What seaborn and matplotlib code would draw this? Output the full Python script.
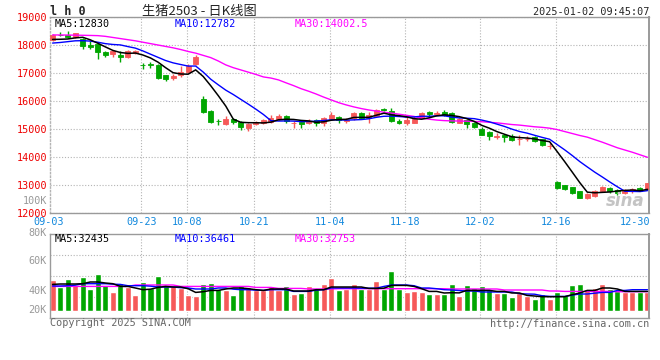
import numpy as np
import pandas as pd
import seaborn as sns
import matplotlib.pyplot as plt
from matplotlib.transforms import ScaledTranslation, blended_transform_factory

# daily K chart of live hog futures 2503, trading days 2024-09-03 .. 2025-01-02
date_labels = ['09-03', '09-23', '10-08', '10-21', '11-04', '11-18', '12-02', '12-16', '12-30']
date_label_days = [0, 12, 18, 27, 37, 47, 57, 67, 77]

opens = [18200, 18380, 18380, 18290, 18240, 18000, 18050, 17750, 17690, 17670,
         17580, 17730, 17300, 17320, 17310, 16930, 16830, 16930, 17050, 17350,
         16100, 15670, 15300, 15190, 15370, 15260, 15050, 15180, 15230, 15270,
         15370, 15490, 15210, 15250, 15230, 15350, 15230, 15360, 15440, 15310,
         15400, 15600, 15400, 15490, 15740, 15650, 15310, 15230, 15240, 15420,
         15610, 15560, 15630, 15570, 15230, 15330, 15210, 15010, 14890, 14740,
         14800, 14770, 14660, 14650, 14740, 14640, 14390, 13120, 13000, 12930,
         12790, 12560, 12610, 12800, 12910, 12850, 12730, 12780, 12890, 12860]
highs = [18420, 18470, 18520, 18450, 18260, 18140, 18080, 17810, 17830, 17790,
         17840, 17840, 17370, 17400, 17330, 16950, 16970, 17250, 17330, 17640,
         16190, 15700, 15370, 15460, 15400, 15300, 15220, 15310, 15370, 15510,
         15560, 15510, 15310, 15270, 15350, 15370, 15430, 15630, 15480, 15420,
         15610, 15630, 15630, 15730, 15770, 15750, 15370, 15430, 15490, 15610,
         15640, 15640, 15690, 15600, 15400, 15370, 15250, 15070, 14930, 14870,
         14830, 14830, 14780, 14760, 14770, 14670, 14500, 13140, 13020, 12950,
         12810, 12740, 12830, 12990, 12950, 12870, 12850, 12900, 12930, 13090]
lows = [18170, 18320, 18260, 18260, 17880, 17850, 17520, 17580, 17570, 17400,
        17550, 17690, 17150, 17180, 16800, 16710, 16760, 16870, 17010, 17310,
        15590, 15210, 15150, 15160, 15200, 14980, 14930, 15150, 15190, 15230,
        15330, 15230, 15060, 15060, 15190, 15100, 15110, 15320, 15230, 15240,
        15330, 15370, 15230, 15460, 15640, 15250, 15180, 15140, 15210, 15390,
        15490, 15510, 15480, 15230, 15220, 15040, 15050, 14800, 14630, 14650,
        14560, 14580, 14430, 14570, 14560, 14400, 14290, 12880, 12830, 12690,
        12540, 12520, 12580, 12770, 12720, 12670, 12690, 12740, 12780, 12840]
closes = [18380, 18360, 18290, 18440, 17960, 17930, 17750, 17640, 17810, 17580,
          17780, 17810, 17280, 17290, 16830, 16800, 16910, 17050, 17250, 17600,
          15620, 15260, 15280, 15380, 15260, 15070, 15190, 15270, 15350, 15400,
          15490, 15290, 15230, 15180, 15310, 15230, 15390, 15510, 15320, 15330,
          15570, 15400, 15520, 15700, 15680, 15290, 15240, 15320, 15370, 15580,
          15540, 15590, 15510, 15250, 15370, 15190, 15080, 14810, 14750, 14760,
          14720, 14620, 14670, 14670, 14600, 14440, 14410, 12910, 12870, 12740,
          12560, 12700, 12790, 12950, 12810, 12730, 12810, 12860, 12810, 13070]

ma5 = [18210, 18215, 18225, 18265, 18286, 18196, 18074, 17944, 17818, 17742,
       17712, 17724, 17652, 17548, 17398, 17202, 17022, 16976, 16968, 17122,
       16886, 16556, 16202, 15828, 15360, 15250, 15236, 15234, 15228, 15256,
       15340, 15360, 15352, 15318, 15300, 15248, 15268, 15324, 15352, 15356,
       15424, 15426, 15428, 15504, 15574, 15518, 15486, 15446, 15380, 15360,
       15410, 15480, 15518, 15494, 15452, 15382, 15280, 15140, 15040, 14918,
       14824, 14732, 14704, 14688, 14656, 14600, 14558, 14206, 13846, 13474,
       13098, 12756, 12732, 12748, 12762, 12796, 12818, 12832, 12804, 12856]
ma10 = [18080, 18100, 18130, 18160, 18165, 18150, 18110, 18060, 18030, 18014,
        17954, 17899, 17798, 17683, 17570, 17457, 17373, 17314, 17258, 17260,
        17044, 16789, 16589, 16398, 16241, 16068, 15896, 15718, 15528, 15308,
        15295, 15298, 15293, 15273, 15278, 15294, 15314, 15338, 15335, 15328,
        15336, 15347, 15376, 15428, 15465, 15471, 15456, 15437, 15442, 15467,
        15464, 15483, 15482, 15437, 15406, 15396, 15380, 15329, 15267, 15185,
        15103, 15006, 14922, 14864, 14787, 14712, 14645, 14455, 14267, 14065,
        13849, 13657, 13469, 13297, 13118, 12947, 12787, 12782, 12776, 12809]
ma30 = [18370, 18368, 18366, 18362, 18358, 18352, 18345, 18320, 18280, 18240,
        18200, 18160, 18110, 18060, 18010, 17960, 17910, 17850, 17780, 17720,
        17640, 17560, 17440, 17300, 17200, 17120, 17040, 16960, 16870, 16830,
        16764, 16660, 16560, 16450, 16360, 16260, 16150, 16050, 15950, 15870,
        15800, 15740, 15690, 15650, 15610, 15580, 15540, 15500, 15460, 15400,
        15360, 15330, 15310, 15300, 15295, 15290, 15280, 15270, 15250, 15230,
        15200, 15170, 15150, 15120, 15090, 15070, 15040, 14990, 14920, 14850,
        14780, 14720, 14630, 14540, 14440, 14340, 14260, 14180, 14090, 14000]

# volume in thousands of lots
volume = [52.7, 39.6, 54.4, 44.2, 57.8, 37.4, 62.9, 44.2, 32.3, 47.6,
          39.6, 27.2, 49.3, 38.6, 59.5, 43.0, 41.3, 38.6, 27.2, 25.5,
          45.9, 47.6, 37.4, 35.7, 27.2, 42.5, 40.3, 34.5, 34.5, 42.5,
          34.5, 42.5, 28.9, 30.6, 42.5, 36.9, 45.9, 56.1, 35.7, 36.9,
          45.9, 36.9, 36.9, 51.0, 36.9, 68.0, 36.9, 32.3, 34.0, 32.3,
          28.9, 28.9, 28.9, 45.9, 25.5, 44.2, 39.1, 42.5, 35.7, 30.6,
          30.6, 23.8, 30.6, 25.5, 20.4, 28.9, 20.4, 32.3, 27.2, 44.2,
          45.9, 37.4, 39.1, 45.9, 37.4, 34.0, 32.3, 32.3, 32.3, 32.3]
vol_ma5 = [44.7, 45.4, 45.4, 45.4, 45.9, 48.8, 48.8, 47.1, 45.9, 41.3,
           41.3, 38.6, 35.7, 36.6, 39.6, 41.3, 40.3, 40.3, 37.4, 31.1,
           32.3, 34.5, 34.5, 36.9, 38.6, 38.6, 37.4, 35.7, 34.5, 36.9,
           36.9, 36.9, 33.5, 33.5, 33.5, 35.7, 35.7, 40.3, 40.3, 40.3,
           40.3, 40.3, 37.9, 37.9, 38.3, 43.0, 43.0, 43.0, 41.3, 37.4,
           32.8, 32.8, 30.1, 30.6, 30.3, 34.5, 34.5, 34.5, 34.5, 32.8,
           32.8, 30.1, 30.1, 26.0, 25.0, 23.8, 23.8, 23.8, 23.8, 27.2,
           30.1, 34.5, 34.5, 38.6, 38.6, 36.9, 32.8, 32.8, 32.8, 32.8]
vol_ma10 = [42.0, 42.0, 42.5, 43.4, 45.9, 45.9, 45.9, 45.9, 45.1, 44.7,
            42.5, 42.5, 42.5, 41.7, 40.3, 40.3, 40.3, 39.1, 38.6, 36.9,
            36.9, 36.9, 38.6, 38.6, 36.6, 35.7, 35.7, 34.9, 34.5, 35.7,
            35.7, 35.7, 32.8, 32.8, 32.8, 34.9, 35.7, 38.6, 38.6, 38.6,
            38.6, 38.3, 38.3, 38.3, 41.3, 43.7, 43.7, 43.7, 42.5, 38.6,
            38.6, 37.4, 35.7, 35.2, 34.3, 33.5, 33.5, 31.8, 31.8, 31.8,
            31.8, 31.8, 28.9, 28.4, 28.1, 25.5, 24.3, 24.3, 24.3, 26.4,
            28.4, 28.4, 29.8, 31.1, 31.1, 34.5, 34.5, 35.7, 35.7, 35.7]
vol_ma30 = [41.3, 41.3, 41.3, 41.3, 41.3, 41.3, 41.3, 41.3, 41.3, 41.3,
            41.3, 43.7, 43.7, 43.7, 43.7, 43.7, 43.7, 41.3, 41.3, 41.3,
            41.3, 41.3, 41.3, 41.3, 41.3, 41.3, 41.3, 39.6, 39.6, 39.6,
            37.9, 37.9, 37.9, 37.9, 36.9, 36.9, 36.9, 36.9, 37.4, 37.4,
            37.4, 37.4, 37.4, 37.4, 37.4, 37.4, 37.4, 37.4, 37.4, 37.4,
            37.4, 37.4, 37.4, 36.9, 36.9, 36.9, 36.9, 36.9, 36.9, 36.9,
            35.2, 35.2, 35.2, 35.2, 35.2, 35.2, 33.5, 33.5, 32.8, 32.8,
            32.8, 32.8, 32.8, 32.8, 32.8, 32.3, 32.3, 32.3, 32.3, 32.3]

price_ticks = [12000, 13000, 14000, 15000, 16000, 17000, 18000, 19000]
vol_tick_labels = ['100K', '80K', '60K', '40K', '20K']
vol_tick_values = [187, 132, 85, 34, 1.2]

RED = '#f65959'
GREEN = '#00a600'
GRID = '#b4b4b4'
BORDER = '#9a9a9a'
W, H = 660, 360

df = pd.DataFrame({'day': np.arange(len(closes)), 'open': opens, 'high': highs,
                   'low': lows, 'close': closes, 'ma5': ma5, 'ma10': ma10, 'ma30': ma30,
                   'volume': volume, 'vma5': vol_ma5, 'vma10': vol_ma10, 'vma30': vol_ma30})
df['dir'] = np.where(df['close'] >= df['open'], 'up', 'down')
colors = np.where(df['dir'] == 'up', RED, GREEN)

sns.set_theme(style='white')
plt.rcParams['font.family'] = ['DejaVu Sans Mono', 'Noto Sans CJK SC']

fig = plt.figure(figsize=(W / 100, H / 100), dpi=100)
ax_k = fig.add_axes([50 / W, 1 - 213.3 / H, 599 / W, 196 / H])
ax_v = fig.add_axes([50 / W, 1 - 318 / H, 599 / W, 84 / H])


def px(x, y):
    return x / W, 1 - y / H


# ---- candles ----
ax_k.vlines(df['day'], df['low'], df['high'], colors=colors, lw=1, zorder=2)
ax_k.bar(df['day'], (df['close'] - df['open']).abs(), bottom=df[['open', 'close']].min(axis=1),
         width=0.66, color=colors, edgecolor=colors, lw=0.6, zorder=3)
sns.lineplot(data=df, x='day', y='ma30', color='#ff00ff', lw=1, ax=ax_k, zorder=4)
sns.lineplot(data=df, x='day', y='ma10', color='#0000ff', lw=1, ax=ax_k, zorder=5)
sns.lineplot(data=df, x='day', y='ma5', color='black', lw=1.1, ax=ax_k, zorder=6)

# ---- volume ----
sns.barplot(data=df, x='day', y='volume', hue='dir', palette={'up': RED, 'down': GREEN},
            dodge=False, width=0.8, native_scale=True, saturation=1, errorbar=None,
            legend=False, ax=ax_v, zorder=2)
sns.lineplot(data=df, x='day', y='vma30', color='#ff00ff', lw=1, ax=ax_v, zorder=4)
sns.lineplot(data=df, x='day', y='vma10', color='#0000ff', lw=1, ax=ax_v, zorder=5)
sns.lineplot(data=df, x='day', y='vma5', color='black', lw=1.1, ax=ax_v, zorder=6)

dots = (0, (1.0, 1.6))
for ax in (ax_k, ax_v):
    ax.set_xlim(-0.345, 79.2)
    ax.set_xlabel('')
    ax.set_ylabel('')
    ax.set_facecolor('white')
    for d in date_label_days[1:-1]:
        ax.axvline(d - 0.2, color=GRID, lw=0.8, ls=dots, zorder=1)
    for s in ax.spines.values():
        s.set_color(BORDER)
        s.set_linewidth(1)
    ax.spines['right'].set_linewidth(1.4)

ax_k.spines['left'].set_linestyle(dots)
ax_k.spines['left'].set_color(GRID)

# price axis
ax_k.set_ylim(12000, 19000)
ax_k.set_yticks(price_ticks, [str(p) for p in price_ticks])
ax_k.yaxis.grid(True, color=GRID, lw=0.8, ls=dots)
ax_k.tick_params(axis='y', length=0, pad=2.2, labelcolor='#ee0000', labelsize=7.3)
ax_k.set_xticks([d - 0.2 for d in date_label_days], date_labels)
ax_k.tick_params(axis='x', length=0, pad=3.0, labelcolor='#1188dd', labelsize=7.3)
xl = ax_k.get_xticklabels()
xl[0].set_transform(xl[0].get_transform() + ScaledTranslation(-0.02, 0, fig.dpi_scale_trans))
xl[-1].set_transform(xl[-1].get_transform() + ScaledTranslation(0.037, 0, fig.dpi_scale_trans))

# volume axis
lo, hi = -12.4, 130.4
ax_v.set_ylim(lo, hi)
ax_v.set_yticks([lo + (hi - lo) * f for f in (0.25, 0.5, 0.75)], ['', '', ''])
ax_v.yaxis.grid(True, color=GRID, lw=0.8, ls=dots)
ax_v.set_xticks([])
ax_v.tick_params(axis='y', length=0)
tr = blended_transform_factory(ax_v.transAxes, ax_v.transData)
for lab, v in zip(vol_tick_labels, vol_tick_values):
    ax_v.text(-3 / 599, v, lab, transform=tr, ha='right', va='center', fontsize=7.3,
              color='#999999', clip_on=False)

# ---- header / legends / footer ----
fig.text(*px(50, 11.5), 'l h 0', fontsize=8.5, fontweight='bold', ha='left', va='center')
fig.text(*px(199, 11), '生猪2503 - 日K线图', fontsize=9.5, ha='center', va='center',
         family=['Noto Sans CJK SC', 'DejaVu Sans'])
fig.text(*px(649, 12), '2025-01-02 09:45:07', fontsize=7.3, ha='right', va='center')

fig.text(*px(55, 23.7), 'MA5:12830', fontsize=7.3, color='black', va='center')
fig.text(*px(175, 23.7), 'MA10:12782', fontsize=7.3, color='#0000ff', va='center')
fig.text(*px(295, 23.7), 'MA30:14002.5', fontsize=7.3, color='#ff00ff', va='center')
fig.text(*px(55, 238.5), 'MA5:32435', fontsize=7.3, color='black', va='center')
fig.text(*px(175, 238.5), 'MA10:36461', fontsize=7.3, color='#0000ff', va='center')
fig.text(*px(295, 238.5), 'MA30:32753', fontsize=7.3, color='#ff00ff', va='center')

fig.text(*px(625, 201), 'sina', fontsize=12, fontweight='bold', style='italic',
         color='#c4c4c4', ha='center', va='center', family='DejaVu Sans')

fig.text(*px(50, 323.5), 'Copyright 2025 SINA.COM', fontsize=7.3, color='#666666', va='center')
fig.text(*px(649, 324), 'http://finance.sina.com.cn', fontsize=7.3, color='#666666',
         ha='right', va='center')

fig.savefig('out.png', dpi=100, facecolor='white')
